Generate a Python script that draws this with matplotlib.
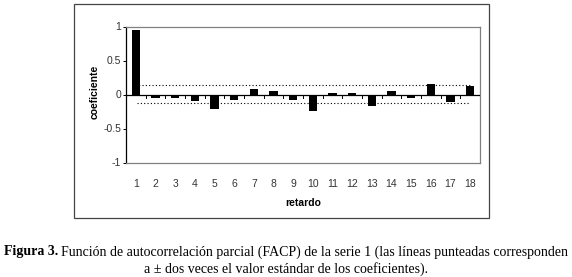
import matplotlib
matplotlib.use("Agg")
import matplotlib.pyplot as plt
from matplotlib.patches import Rectangle
from matplotlib import font_manager

lags = list(range(1, 19))
pacf = [0.95, -0.05, -0.055, -0.09, -0.21, -0.08, 0.074, 0.054, -0.08,
        -0.24, 0.02, 0.015, -0.17, 0.054, -0.05, 0.15, -0.11, 0.12]
upper = 0.138
lower = -0.118
yticks = [1, 0.5, 0, -0.5, -1]
ytick_labels = ["1", "0.5", "0", "-0.5", "-1"]

names = {f.name for f in font_manager.fontManager.ttflist}
tick_font = "Liberation Sans Narrow" if "Liberation Sans Narrow" in names else "Liberation Sans"

W, H = 572, 277
fig = plt.figure(figsize=(W / 100, H / 100), dpi=100)
fig.patch.set_facecolor("white")

# outer chart frame
fig.patches.append(Rectangle((74 / W, 1 - 218 / H), (489 - 74) / W, (218 - 4) / H,
                             transform=fig.transFigure, fill=False,
                             edgecolor="#444444", linewidth=0.9))

ax = fig.add_axes([126 / W, 1 - 162.5 / H, (480 - 126) / W, (162.5 - 26.5) / H])
ax.bar(lags, pacf, width=0.41, color="black", zorder=3)
ax.set_xlim(0.5, 18.5)
ax.set_ylim(-1, 1)

ax.plot([0.8, 18], [upper, upper], color="black", linestyle=(0, (1, 2)), linewidth=0.8, zorder=2)
ax.plot([1.05, 18], [lower, lower], color="black", linestyle=(0, (1, 2)), linewidth=0.8, zorder=2)

# zero axis line with category boundary ticks
ax.axhline(0, color="black", linewidth=0.9, zorder=4)
for b in [i + 0.5 for i in range(0, 19)]:
    ax.plot([b, b], [0, -0.045], color="black", linewidth=0.7, zorder=4)

for s in ax.spines.values():
    s.set_color("#808080")
    s.set_linewidth(0.9)
ax.spines["left"].set_color("black")

ax.set_yticks(yticks)
ax.set_yticklabels(ytick_labels, fontsize=7.5, family=tick_font, color="#333333")
ax.tick_params(axis="y", length=2.5, width=0.7, pad=1)
ax.set_xticks(lags)
ax.set_xticklabels([str(v) for v in lags], fontsize=7.5, family=tick_font, color="#333333")
ax.tick_params(axis="x", length=0, pad=12)

ax.text(0.5, -((199 + 3.5 - 162.5) / (162.5 - 26.5)), "retardo", transform=ax.transAxes,
        fontsize=7.5, fontweight="bold", family="Liberation Sans", ha="center", va="center")
fig.text(95 / W, 1 - 92 / H, "coeficiente", rotation=90, fontsize=7.5, fontweight="bold",
         family="Liberation Sans", ha="center", va="center")

t1 = fig.text(4 / W, 1 - 252 / H, "Figura 3.", fontsize=10, fontweight="bold",
              family="Liberation Serif", va="center", ha="left")
fig.canvas.draw()
bb = t1.get_window_extent()
fig.text(bb.x1 / W + 3 / W, 1 - 252 / H,
         "Función de autocorrelación parcial (FACP) de la serie 1 (las líneas punteadas corresponden",
         fontsize=10, family="Liberation Serif", va="center", ha="left")
fig.text(286 / W, 1 - 269 / H,
         "a ± dos veces el valor estándar de los coeficientes).",
         fontsize=10, family="Liberation Serif", va="center", ha="center")

fig.savefig("out.png", dpi=100, facecolor="white")
